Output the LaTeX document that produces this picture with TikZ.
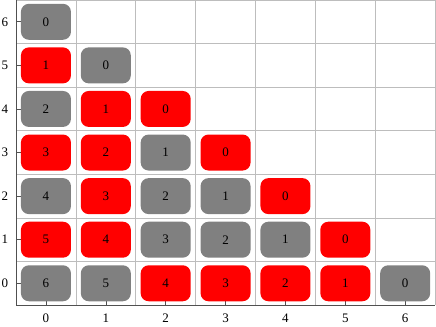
\documentclass[tikz,border=0pt]{standalone}
\usepackage{fontspec}
\setmainfont{Liberation Serif}
\definecolor{cellred}{HTML}{FF0000}
\definecolor{cellgrey}{HTML}{808080}
\definecolor{gridgrey}{HTML}{BDBDBD}
\definecolor{axisgrey}{HTML}{505050}

\begin{document}
\begin{tikzpicture}[x=59.86pt, y=43.57pt, font=\fontsize{13}{15}\selectfont,
  cell/.style={rounded corners=8pt, minimum width=50pt, minimum height=36pt,
    inner sep=0pt, text=black}]
\useasboundingbox (-16pt,-21pt) rectangle (419.9pt,305pt);
% grid and axes
\foreach \i in {1,...,7}{
  \draw[gridgrey, line width=0.7pt] (\i,0) -- (\i,7);
  \draw[gridgrey, line width=0.7pt] (0,\i) -- (7,\i);
}
\draw[axisgrey, line width=0.8pt] (0,7) -- (0,0) -- (7,0);
\foreach \i in {0,...,6}{
  \draw[axisgrey, line width=0.6pt] (\i+0.5,0) -- ++(0,5pt);
  \draw[axisgrey, line width=0.6pt] (0,\i+0.5) -- ++(5pt,0);
  \node[yshift=-13pt] (xl\i) at (\i+0.5,0) {\i};
  \node[xshift=-11pt] (yl\i) at (0,\i+0.5) {\i};
}
% cells: column/row/colour, value is 6-column-row
\foreach \x/\y/\c in {0/6/cellgrey,
  0/5/cellred, 1/5/cellgrey,
  0/4/cellgrey, 1/4/cellred, 2/4/cellred,
  0/3/cellred, 1/3/cellred, 2/3/cellgrey, 3/3/cellred,
  0/2/cellgrey, 1/2/cellred, 2/2/cellgrey, 3/2/cellgrey, 4/2/cellred,
  0/1/cellred, 1/1/cellred, 2/1/cellgrey, 3/1/cellgrey, 4/1/cellgrey, 5/1/cellred,
  0/0/cellgrey, 1/0/cellgrey, 2/0/cellred, 3/0/cellred, 4/0/cellred, 5/0/cellred, 6/0/cellgrey}{
  \pgfmathtruncatemacro\v{6-\x-\y}
  \node[cell, fill=\c] (c\x\y) at (\x+0.5,\y+0.5) {\v};
}
\end{tikzpicture}
\end{document}
